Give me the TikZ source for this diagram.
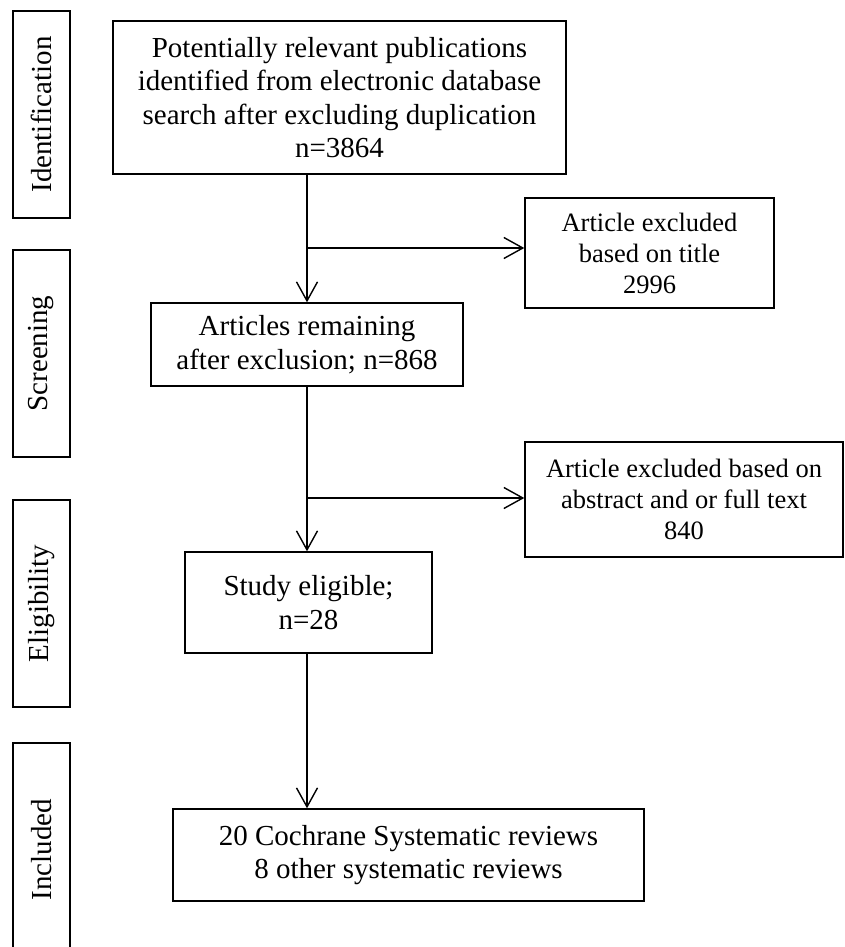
\documentclass[tikz,border=0pt]{standalone}
\usepackage{fontspec}
\setmainfont{Liberation Serif}
\usetikzlibrary{arrows.meta}
\tikzset{
  box/.style={draw, line width=1.4pt, rectangle, inner sep=0pt, align=center,
    font=\fontsize{29}{33.5}\selectfont},
  exbox/.style={box, font=\fontsize{26.5}{31}\selectfont},
  sidebox/.style={draw, line width=1.4pt, rectangle, inner sep=0pt,
    minimum width=57pt, font=\fontsize{29}{33.5}\selectfont},
  sidelabel/.style={rotate=90, inner sep=0pt, font=\fontsize{29}{33.5}\selectfont},
  conn/.style={line width=1.4pt},
  arr/.style={conn, -{Straight Barb[length=19pt,width=21pt,line width=1.4pt]}}
}
\begin{document}
\begin{tikzpicture}[x=1pt,y=-1pt]
\useasboundingbox (0,0) rectangle (845,947);
\clip (0,0) rectangle (845,947);
\fill[white] (0,0) rectangle (845,947);

% side boxes
\node[sidebox, minimum height=207pt] (idb) at (41.5,114.5) {};
\node[sidelabel] (idl) at (idb.center) {Identification};
\node[sidebox, minimum height=207pt] (scb) at (41.5,353.5) {};
\node[sidelabel] (scl) at (scb.center) {Screening};
\node[sidebox, minimum height=207pt] (elb) at (41.5,603.5) {};
\node[sidelabel] (ell) at (elb.center) {Eligibility};
\node[sidebox, minimum height=213pt] (inb) at (41.5,849.5) {};
\node[sidelabel] (inl) at (inb.center) {Included};

% main boxes
\node[box, minimum width=453pt, minimum height=153pt] (b1) at (339.5,97.5)
  {Potentially relevant publications\\identified from electronic database\\search after excluding duplication\\n=3864};
\node[exbox, minimum width=249pt, minimum height=110pt] (ex1) at (649.5,253)
  {Article excluded\\based on title\\2996};
\node[box, minimum width=312pt, minimum height=83pt] (b2) at (307,344.5)
  {Articles remaining\\after exclusion; n=868};
\node[exbox, minimum width=318pt, minimum height=115pt] (ex2) at (684,499.5)
  {Article excluded based on\\abstract and or full text\\840};
\node[box, minimum width=247pt, minimum height=101pt] (b3) at (308.5,602.5)
  {Study eligible;\\n=28};
\node[box, minimum width=471pt, minimum height=92pt] (b4) at (408.5,855)
  {20 Cochrane Systematic reviews\\8 other systematic reviews};

% connectors
\coordinate (br1) at (307,248);
\coordinate (br2) at (307,498);
\draw[arr] (b1.south -| b2.north) -- (b2.north);
\draw[arr] (br1) -- (br1 -| ex1.west);
\draw[arr] (b2.south) -- (b2.south |- b3.north);
\draw[arr] (br2) -- (br2 -| ex2.west);
\draw[arr] (b3.south -| b2.south) -- (b2.south |- b4.north);
\end{tikzpicture}
\end{document}
